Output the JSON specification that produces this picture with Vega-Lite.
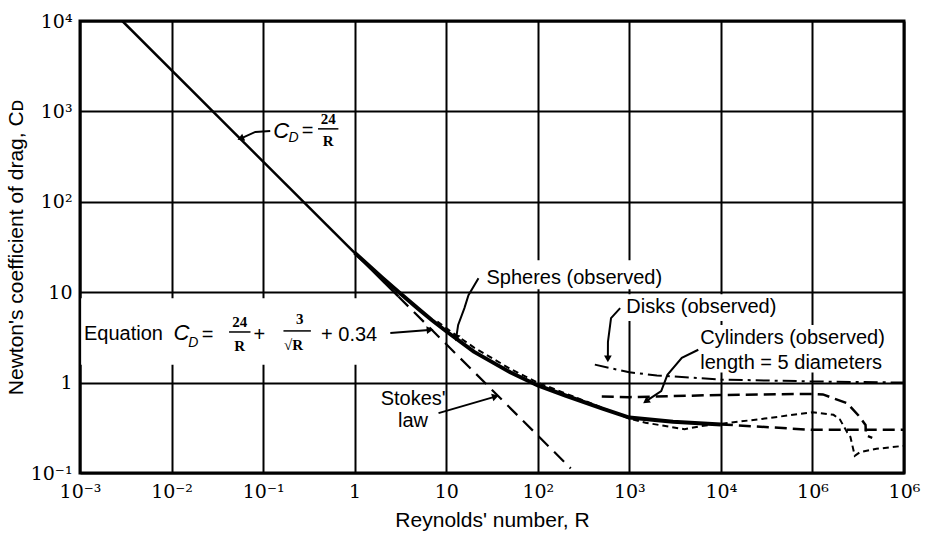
{
  "$schema": "https://vega.github.io/schema/vega-lite/v6.json",
  "width": 824,
  "height": 452,
  "autosize": {"type": "none"},
  "padding": {"left": 80, "top": 21, "right": 27, "bottom": 67},
  "background": "white",
  "config": {
    "view": {"stroke": "black", "strokeWidth": 3},
    "axis": {
      "grid": true, "gridColor": "black", "gridWidth": 2, "gridOpacity": 1,
      "ticks": false, "domain": false,
      "labelFont": "DejaVu Serif", "labelFontSize": 19, "labelColor": "black",
      "titleFont": "Liberation Sans", "titleFontSize": 21, "titleFontWeight": "normal", "titleColor": "black"
    }
  },
  "datasets": {
    "curves": [
      {"series": "Newton", "R": 0.0029, "CD": 10000},
      {"series": "Newton", "R": 3, "CD": 8.97},
      {"series": "Stokes", "R": 3, "CD": 8.97},
      {"series": "Stokes", "R": 229, "CD": 0.1125},
      {"series": "Equation", "R": 1, "CD": 27.3},
      {"series": "Equation", "R": 2, "CD": 14.5},
      {"series": "Equation", "R": 3, "CD": 10.1},
      {"series": "Equation", "R": 5, "CD": 6.5},
      {"series": "Equation", "R": 7, "CD": 4.9},
      {"series": "Equation", "R": 10, "CD": 3.7},
      {"series": "Equation", "R": 20, "CD": 2.2},
      {"series": "Equation", "R": 50, "CD": 1.3},
      {"series": "Equation", "R": 100, "CD": 0.93},
      {"series": "Equation", "R": 200, "CD": 0.72},
      {"series": "Equation", "R": 500, "CD": 0.52},
      {"series": "Equation", "R": 1000, "CD": 0.41},
      {"series": "Equation", "R": 3000, "CD": 0.37},
      {"series": "Equation", "R": 10000, "CD": 0.345},
      {"series": "EquationExt", "R": 10000, "CD": 0.345},
      {"series": "EquationExt", "R": 100000, "CD": 0.30},
      {"series": "EquationExt", "R": 1000000, "CD": 0.30},
      {"series": "Spheres", "R": 8, "CD": 4.75},
      {"series": "Spheres", "R": 10, "CD": 4.0},
      {"series": "Spheres", "R": 20, "CD": 2.45},
      {"series": "Spheres", "R": 50, "CD": 1.42},
      {"series": "Spheres", "R": 100, "CD": 1.0},
      {"series": "Spheres", "R": 200, "CD": 0.76},
      {"series": "Spheres", "R": 500, "CD": 0.53},
      {"series": "Spheres", "R": 1000, "CD": 0.40},
      {"series": "Spheres", "R": 1500, "CD": 0.36},
      {"series": "Spheres", "R": 4000, "CD": 0.305},
      {"series": "Spheres", "R": 6000, "CD": 0.33},
      {"series": "Spheres", "R": 10000, "CD": 0.35},
      {"series": "Spheres", "R": 30000, "CD": 0.40},
      {"series": "Spheres", "R": 100000, "CD": 0.47},
      {"series": "Spheres", "R": 170000, "CD": 0.44},
      {"series": "Spheres", "R": 200000, "CD": 0.39},
      {"series": "Spheres", "R": 240000, "CD": 0.28},
      {"series": "Spheres", "R": 260000, "CD": 0.25},
      {"series": "Spheres", "R": 290000, "CD": 0.155},
      {"series": "Spheres", "R": 330000, "CD": 0.17},
      {"series": "Spheres", "R": 500000, "CD": 0.185},
      {"series": "Spheres", "R": 1000000, "CD": 0.20},
      {"series": "Disks", "R": 420, "CD": 1.58},
      {"series": "Disks", "R": 1000, "CD": 1.3},
      {"series": "Disks", "R": 2000, "CD": 1.2},
      {"series": "Disks", "R": 10000, "CD": 1.08},
      {"series": "Disks", "R": 100000, "CD": 1.03},
      {"series": "Disks", "R": 1000000, "CD": 1.0},
      {"series": "Cylinders", "R": 500, "CD": 0.70},
      {"series": "Cylinders", "R": 1000, "CD": 0.69},
      {"series": "Cylinders", "R": 10000, "CD": 0.73},
      {"series": "Cylinders", "R": 100000, "CD": 0.75},
      {"series": "Cylinders", "R": 130000, "CD": 0.74},
      {"series": "Cylinders", "R": 240000, "CD": 0.59},
      {"series": "Cylinders", "R": 320000, "CD": 0.43},
      {"series": "Cylinders", "R": 380000, "CD": 0.34},
      {"series": "Cylinders", "R": 385000, "CD": 0.26},
      {"series": "Cylinders", "R": 450000, "CD": 0.245}
    ],
    "arrows": [
      {"arrow": "cd24", "R": 0.1196, "CD": 608},
      {"arrow": "cd24", "R": 0.0822, "CD": 593},
      {"arrow": "cd24", "R": 0.0583, "CD": 507},
      {"arrow": "eq", "R": 2.45, "CD": 3.54},
      {"arrow": "eq", "R": 6.47, "CD": 3.82},
      {"arrow": "sph", "R": 22.5, "CD": 14.26},
      {"arrow": "sph", "R": 17.5, "CD": 9.27},
      {"arrow": "sph", "R": 15.8, "CD": 6.67},
      {"arrow": "sph", "R": 13.5, "CD": 4.34},
      {"arrow": "sph", "R": 12.9, "CD": 3.2},
      {"arrow": "disk", "R": 794, "CD": 6.67},
      {"arrow": "disk", "R": 631, "CD": 5.17},
      {"arrow": "disk", "R": 584, "CD": 2.83},
      {"arrow": "disk", "R": 583, "CD": 1.88},
      {"arrow": "cyl", "R": 5666, "CD": 2.31},
      {"arrow": "cyl", "R": 3742, "CD": 1.88},
      {"arrow": "cyl", "R": 2606, "CD": 1.22},
      {"arrow": "cyl", "R": 2229, "CD": 0.804},
      {"arrow": "cyl", "R": 1553, "CD": 0.631},
      {"arrow": "stokes", "R": 8.24, "CD": 0.46},
      {"arrow": "stokes", "R": 33.6, "CD": 0.695}
    ],
    "heads": [
      {"arrow": "cd24", "R": 0.0583, "CD": 507},
      {"arrow": "eq", "R": 6.47, "CD": 3.82},
      {"arrow": "sph", "R": 12.9, "CD": 3.2},
      {"arrow": "disk", "R": 583, "CD": 1.88},
      {"arrow": "cyl", "R": 1553, "CD": 0.631},
      {"arrow": "stokes", "R": 33.6, "CD": 0.695}
    ],
    "boxes": [
      {"R": 0.00103, "R2": 2.39, "CD": 1.58, "CD2": 8.59},
      {"R": 24.3, "R2": 3560, "CD": 10.8, "CD2": 22.5},
      {"R": 815, "R2": 62400, "CD": 4.8, "CD2": 9.5},
      {"R": 5240, "R2": 902000, "CD": 1.29, "CD2": 4.34}
    ],
    "bars": [
      {"R": 0.398, "R2": 0.664, "CD": 641},
      {"R": 0.04246, "R2": 0.0728, "CD": 3.63},
      {"R": 0.1668, "R2": 0.3325, "CD": 3.73}
    ],
    "italicBig": [
      {"R": 0.1292, "CD": 608, "label": "C"},
      {"R": 0.0105, "CD": 3.54, "label": "C"}
    ],
    "italicSub": [
      {"R": 0.1896, "CD": 507, "label": "D"},
      {"R": 0.01517, "CD": 2.75, "label": "D"}
    ],
    "sans": [
      {"R": 0.2646, "CD": 608, "label": "="},
      {"R": 0.001105, "CD": 3.45, "label": "Equation"},
      {"R": 0.02138, "CD": 3.365, "label": "="},
      {"R": 0.0783, "CD": 3.365, "label": "+"},
      {"R": 0.4296, "CD": 3.365, "label": "+ 0.34"},
      {"R": 27.5, "CD": 14.26, "label": "Spheres (observed)"},
      {"R": 926, "CD": 6.84, "label": "Disks (observed)"},
      {"R": 5957, "CD": 3.126, "label": "Cylinders (observed)"},
      {"R": 5957, "CD": 1.66, "label": "length = 5 diameters"},
      {"R": 1.923, "CD": 0.662, "label": "Stokes'"},
      {"R": 2.977, "CD": 0.379, "label": "law"}
    ],
    "frac": [
      {"R": 0.514, "CD": 832, "label": "24"},
      {"R": 0.514, "CD": 468, "label": "R"},
      {"R": 0.0556, "CD": 4.68, "label": "24"},
      {"R": 0.0556, "CD": 2.55, "label": "R"},
      {"R": 0.2512, "CD": 5.05, "label": "3"},
      {"R": 0.2154, "CD": 2.62, "label": "√R"}
    ]
  },
  "encoding": {
    "x": {
      "field": "R", "type": "quantitative",
      "scale": {"type": "log", "domain": [0.001, 1000000], "nice": false},
      "axis": {
        "values": [0.001, 0.01, 0.1, 1, 10, 100, 1000, 10000, 100000, 1000000],
        "labelExpr": "['10⁻³','10⁻²','10⁻¹','1','10','10²','10³','10⁴','10⁶','10⁶'][round(log(datum.value)/LN10)+3]",
        "title": "Reynolds' number, R",
        "labelPadding": 9, "titlePadding": 8, "labelFlush": false, "labelOverlap": false
      }
    },
    "y": {
      "field": "CD", "type": "quantitative",
      "scale": {"type": "log", "domain": [0.1, 10000], "nice": false},
      "axis": {
        "values": [0.1, 1, 10, 100, 1000, 10000],
        "labelExpr": "['10⁻¹','1','10','10²','10³','10⁴'][round(log(datum.value)/LN10)+1]",
        "title": "Newton's coefficient of drag, Cᴅ",
        "labelPadding": 8, "titlePadding": 4, "labelFlush": false, "labelOverlap": false
      }
    }
  },
  "layer": [
    {
      "data": {"name": "boxes"},
      "mark": {"type": "rect", "fill": "white", "stroke": null},
      "encoding": {"x2": {"field": "R2"}, "y2": {"field": "CD2"}}
    },
    {
      "data": {"name": "curves"},
      "transform": [{"filter": "datum.series == 'Newton'"}],
      "mark": {"type": "line", "color": "black", "strokeWidth": 2.5, "clip": true}
    },
    {
      "data": {"name": "curves"},
      "transform": [{"filter": "datum.series == 'Stokes'"}],
      "mark": {"type": "line", "color": "black", "strokeWidth": 2.2, "strokeDash": [14, 8], "clip": true}
    },
    {
      "data": {"name": "curves"},
      "transform": [{"filter": "datum.series == 'Equation'"}],
      "mark": {"type": "line", "color": "black", "strokeWidth": 4, "clip": true}
    },
    {
      "data": {"name": "curves"},
      "transform": [{"filter": "datum.series == 'EquationExt'"}],
      "mark": {"type": "line", "color": "black", "strokeWidth": 2.5, "strokeDash": [12, 6], "clip": true}
    },
    {
      "data": {"name": "curves"},
      "transform": [{"filter": "datum.series == 'Spheres'"}],
      "mark": {"type": "line", "color": "black", "strokeWidth": 2, "strokeDash": [6, 4], "clip": true}
    },
    {
      "data": {"name": "curves"},
      "transform": [{"filter": "datum.series == 'Disks'"}],
      "mark": {"type": "line", "color": "black", "strokeWidth": 2, "strokeDash": [14, 5, 3, 5], "clip": true}
    },
    {
      "data": {"name": "curves"},
      "transform": [{"filter": "datum.series == 'Cylinders'"}],
      "mark": {"type": "line", "color": "black", "strokeWidth": 2.5, "strokeDash": [12, 6], "clip": true}
    },
    {
      "data": {"name": "arrows"},
      "mark": {"type": "line", "color": "black", "strokeWidth": 2},
      "encoding": {"detail": {"field": "arrow"}}
    },
    {
      "data": {"name": "heads"},
      "transform": [{"filter": "datum.arrow == 'cd24'"}],
      "mark": {"type": "point", "shape": "triangle", "filled": true, "color": "black", "opacity": 1, "size": 60, "angle": 247}
    },
    {
      "data": {"name": "heads"},
      "transform": [{"filter": "datum.arrow == 'eq'"}],
      "mark": {"type": "point", "shape": "triangle", "filled": true, "color": "black", "opacity": 1, "size": 60, "angle": 85}
    },
    {
      "data": {"name": "heads"},
      "transform": [{"filter": "datum.arrow == 'sph'"}],
      "mark": {"type": "point", "shape": "triangle", "filled": true, "color": "black", "opacity": 1, "size": 60, "angle": 190}
    },
    {
      "data": {"name": "heads"},
      "transform": [{"filter": "datum.arrow == 'disk'"}],
      "mark": {"type": "point", "shape": "triangle", "filled": true, "color": "black", "opacity": 1, "size": 60, "angle": 180}
    },
    {
      "data": {"name": "heads"},
      "transform": [{"filter": "datum.arrow == 'cyl'"}],
      "mark": {"type": "point", "shape": "triangle", "filled": true, "color": "black", "opacity": 1, "size": 60, "angle": 235}
    },
    {
      "data": {"name": "heads"},
      "transform": [{"filter": "datum.arrow == 'stokes'"}],
      "mark": {"type": "point", "shape": "triangle", "filled": true, "color": "black", "opacity": 1, "size": 60, "angle": 73}
    },
    {
      "data": {"name": "bars"},
      "mark": {"type": "rule", "color": "black", "strokeWidth": 1.5},
      "encoding": {"x2": {"field": "R2"}}
    },
    {
      "data": {"name": "italicBig"},
      "mark": {"type": "text", "font": "Liberation Sans", "fontStyle": "italic", "fontSize": 22, "align": "left", "baseline": "middle", "color": "black"},
      "encoding": {"text": {"field": "label"}}
    },
    {
      "data": {"name": "italicSub"},
      "mark": {"type": "text", "font": "Liberation Sans", "fontStyle": "italic", "fontSize": 14, "align": "left", "baseline": "middle", "color": "black"},
      "encoding": {"text": {"field": "label"}}
    },
    {
      "data": {"name": "sans"},
      "mark": {"type": "text", "font": "Liberation Sans", "fontSize": 20, "align": "left", "baseline": "middle", "color": "black"},
      "encoding": {"text": {"field": "label"}}
    },
    {
      "data": {"name": "frac"},
      "mark": {"type": "text", "font": "Liberation Serif", "fontWeight": "bold", "fontSize": 15, "align": "center", "baseline": "middle", "color": "black"},
      "encoding": {"text": {"field": "label"}}
    }
  ]
}
